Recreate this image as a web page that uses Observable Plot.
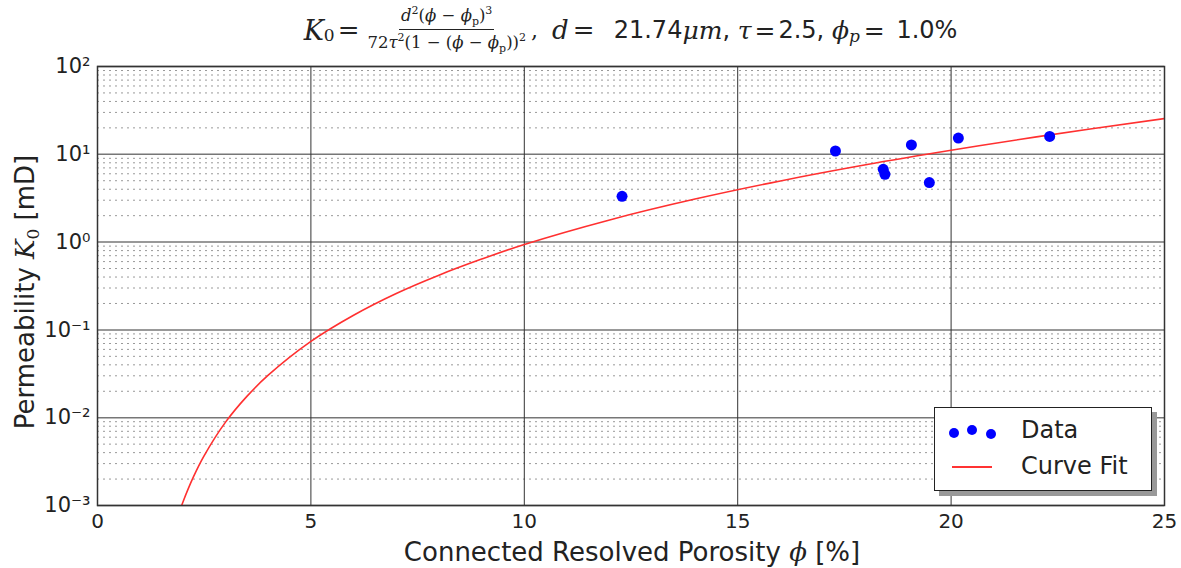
<!DOCTYPE html>
<html>
<head>
<meta charset="utf-8">
<script src="https://cdn.jsdelivr.net/npm/d3@7"></script>
<script src="https://cdn.jsdelivr.net/npm/@observablehq/plot@0.6"></script>
<style>
  html, body { margin: 0; padding: 0; background: #fff; }
  #wrap { position: relative; width: 1181px; height: 568px; font-family: "DejaVu Sans", sans-serif; color: #222; }
  #title { position: absolute; left: 0; top: 0; width: 1181px; height: 60px; display: flex; align-items: center; justify-content: center; padding-left: 80px; box-sizing: border-box; white-space: nowrap; z-index: 2; }
  .m { font-family: "DejaVu Serif", "Liberation Serif", serif; font-style: italic; }
  .mu { font-family: "DejaVu Serif", "Liberation Serif", serif; }
  .frac { display: inline-flex; flex-direction: column; align-items: center; font-size: 16.5px; vertical-align: middle; margin: 0 3px; position: relative; top: -1px; }
  .frac .num { border-bottom: 1px solid #222; padding: 0 2px 1px 2px; }
  .frac .den { padding: 1px 2px 0 2px; }
  .frac sup, .frac sub { font-size: 11px; }
  #chart { position: absolute; left: 0; top: 40px; z-index: 1; }
  #ylab { position: absolute; left: 25px; top: 292px; transform: translate(-50%, -50%) rotate(-90deg); font-size: 26px; white-space: nowrap; z-index: 2; }
  #xlab { position: absolute; left: 632px; top: 552px; transform: translate(-50%, -50%); font-size: 26px; white-space: nowrap; z-index: 2; }
  #legend { position: absolute; left: 934px; top: 407px; width: 216px; height: 82px; border: 1.5px solid #222; background: #fff; box-shadow: 5px 5px 0 #999; font-size: 24px; z-index: 3; }
  .lrow { position: absolute; left: 0; height: 30px; display: flex; align-items: center; }
  .dot { position: absolute; width: 10px; height: 10px; border-radius: 50%; background: #0000ff; }
</style>
</head>
<body>
<div id="wrap">
  <div id="title">
    <span class="m" style="font-size:27px">K</span><span class="mu" style="font-size:17px;position:relative;top:5px">0</span>
    <span class="mu" style="font-size:26px;margin:0 3px">=</span>
    <span class="frac mu"><span class="num"><i>d</i><sup>2</sup>(<i>ϕ</i> − <i>ϕ</i><sub>p</sub>)<sup>3</sup></span><span class="den">72<i>τ</i><sup>2</sup>(1 − (<i>ϕ</i> − <i>ϕ</i><sub>p</sub>))<sup>2</sup></span></span><span class="mu" style="font-size:22px">,&nbsp;&nbsp;</span>
    <span class="m" style="font-size:26px">d</span><span class="mu" style="font-size:26px;margin:0 4px">=</span>
    <span style="font-size:24px">&nbsp;&nbsp;21.74</span><span class="m" style="font-size:25px">μm</span><span style="font-size:24px">,&nbsp;</span><span class="m" style="font-size:25px">τ</span><span class="mu" style="font-size:25px;margin:0 3px">=</span><span style="font-size:24px">2.5,&nbsp;</span><span class="m" style="font-size:25px">ϕ</span><span class="m" style="font-size:17px;position:relative;top:6px">p</span><span class="mu" style="font-size:25px;margin:0 4px">=</span><span style="font-size:24px">&nbsp;1.0%</span>
  </div>
  <div id="chart"></div>
  <div id="ylab">Permeability <span class="m">K</span><span class="mu" style="font-size:17px;position:relative;top:5px">0</span> [mD]</div>
  <div id="xlab">Connected Resolved Porosity <span class="m">ϕ</span> [%]</div>
  <div id="legend">
    <div class="lrow" style="top:8px;width:216px">
      <span class="dot" style="left:14px;top:12px"></span>
      <span class="dot" style="left:32px;top:9px"></span>
      <span class="dot" style="left:51px;top:13px"></span>
      <span style="position:absolute;left:86px;top:0px">Data</span>
    </div>
    <div class="lrow" style="top:44px;width:216px">
      <span style="position:absolute;left:17px;top:14px;width:40px;height:2px;background:#ff3333"></span>
      <span style="position:absolute;left:86px;top:0px">Curve Fit</span>
    </div>
  </div>
</div>
<script>
// Measured data points (porosity %, permeability mD)
const dataPhi = [12.29, 17.29, 18.41, 18.45, 19.07, 19.49, 20.17, 22.31];
const dataK   = [3.32, 10.9, 6.74, 5.92, 12.8, 4.77, 15.3, 16.0];

// Curve fit (porosity %, permeability mD)
const fitPhi = [1.95, 2.0, 2.25, 2.5, 3.0, 3.5, 4.0, 5.0, 6.0, 7.0, 8.0, 9.0, 10.0, 12.0, 14.0, 16.0, 18.0, 20.0, 22.0, 25.0];
const fitK   = [0.00093, 0.00109, 0.00213, 0.0037, 0.0089, 0.0175, 0.0305, 0.074, 0.147, 0.26, 0.42, 0.64, 0.94, 1.79, 3.09, 4.97, 7.59, 11.1, 15.8, 25.5];

// Axis ticks
const xTicks = [0, 5, 10, 15, 20, 25];
const yMajor = [1e-3, 1e-2, 1e-1, 1e0, 1e1, 1e2];
const yLabels = ["10⁻³", "10⁻²", "10⁻¹", "10⁰", "10¹", "10²"];
const yMinorMult = [2, 3, 4, 5, 6, 7, 8, 9];

const points = dataPhi.map((x, i) => ({x, y: dataK[i]}));
const fit = fitPhi.map((x, i) => ({x, y: fitK[i]}));
const yMinor = yMajor.slice(0, -1).flatMap(d => yMinorMult.map(m => d * m));
const labelOf = new Map(yMajor.map((v, i) => [v, yLabels[i]]));

const chart = Plot.plot({
  width: 1181,
  height: 528,
  marginLeft: 97,
  marginRight: 17,
  marginTop: 26,
  marginBottom: 63,
  style: {fontFamily: "DejaVu Sans, sans-serif", fontSize: "20px", color: "#222", background: "transparent"},
  x: {domain: [0, 25], label: null},
  y: {type: "log", domain: [1e-3, 1e2], label: null},
  marks: [
    Plot.ruleY(yMinor, {stroke: "#999", strokeWidth: 1, strokeDasharray: "2,4"}),
    Plot.ruleY(yMajor, {stroke: "#777", strokeWidth: 1.5}),
    Plot.ruleX(xTicks, {stroke: "#333", strokeWidth: 1}),
    Plot.line(fit, {x: "x", y: "y", stroke: "#ff3030", strokeWidth: 1.6, curve: "catmull-rom", clip: true}),
    Plot.dot(points, {x: "x", y: "y", r: 5.5, fill: "#0000ff", stroke: "none"}),
    Plot.frame({stroke: "#333", strokeWidth: 1.5}),
    Plot.axisX({ticks: xTicks, tickSize: 0, tickPadding: 8, label: null, fontSize: 20}),
    Plot.axisY({ticks: yMajor, tickSize: 0, tickPadding: 7, tickFormat: d => labelOf.get(d), label: null, fontSize: 21})
  ]
});
document.getElementById("chart").appendChild(chart);
</script>
</body>
</html>
